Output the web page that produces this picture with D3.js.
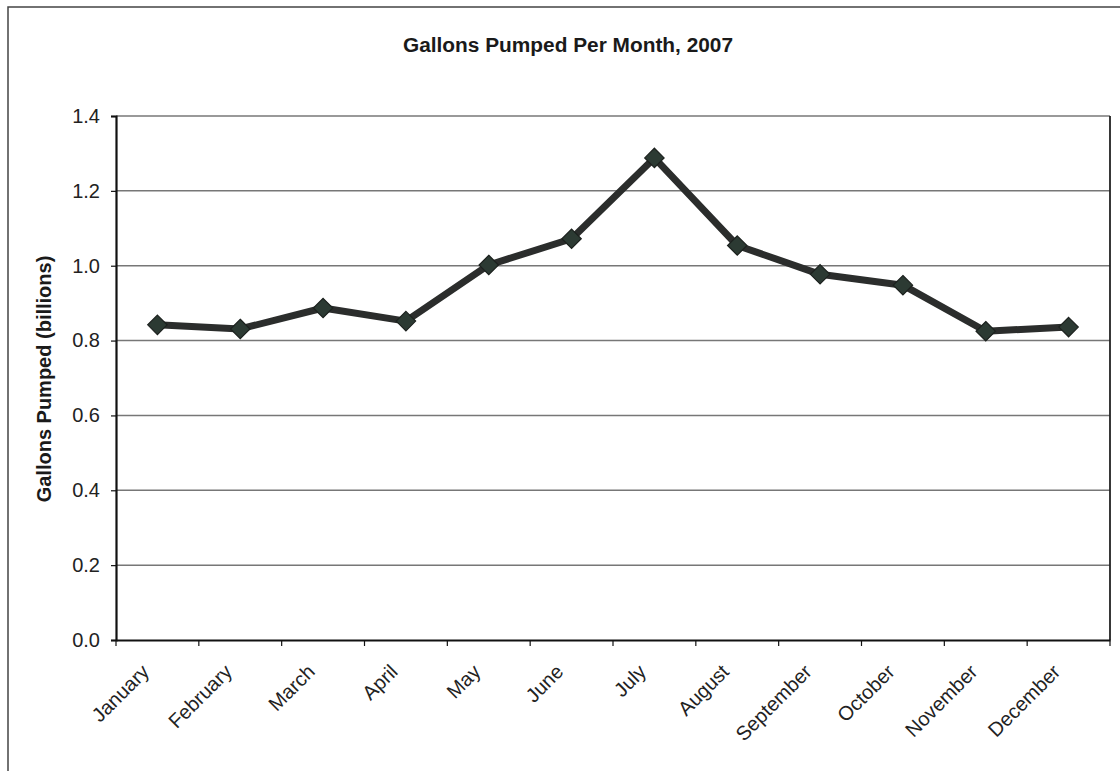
<!DOCTYPE html>
<html>
<head>
<meta charset="utf-8">
<script src="https://cdn.jsdelivr.net/npm/d3@7"></script>
<style>
  body { margin: 0; background: #fff; }
  svg { display: block; font-family: Arial, "Liberation Sans", sans-serif; }
</style>
</head>
<body>
<svg id="chart" width="1120" height="771"></svg>
<script>
var months = ['January', 'February', 'March', 'April', 'May', 'June',
  'July', 'August', 'September', 'October', 'November', 'December'];
var gallons = [0.842, 0.831, 0.887, 0.852, 1.002, 1.072,
  1.288, 1.054, 0.977, 0.948, 0.825, 0.836];
var yTicks = [0, 0.2, 0.4, 0.6, 0.8, 1.0, 1.2, 1.4];

var margin = { left: 116, top: 116, right: 10, bottom: 131 };
var width = 1120 - margin.left - margin.right;
var height = 771 - margin.top - margin.bottom;

var svg = d3.select('#chart');

// outer frame (only left and top edges are on the page)
svg.append('path')
  .attr('d', 'M8,771 L8,7 L1120,7')
  .attr('fill', 'none')
  .attr('stroke', '#444')
  .attr('stroke-width', 1.5);

svg.append('text')
  .attr('x', 568).attr('y', 52)
  .attr('text-anchor', 'middle')
  .attr('font-weight', 'bold')
  .attr('font-size', 20)
  .attr('textLength', 330)
  .attr('lengthAdjust', 'spacingAndGlyphs')
  .attr('fill', '#1a1a1a')
  .text('Gallons Pumped Per Month, 2007');

var g = svg.append('g')
  .attr('transform', 'translate(' + margin.left + ',' + margin.top + ')');

var x = d3.scaleBand().domain(months).range([0, width]);
var y = d3.scaleLinear().domain([0, 1.4]).range([height, 0]);

// gridlines
g.selectAll('.grid').data(yTicks.slice(1))
  .enter().append('line').attr('class', 'grid')
  .attr('x1', 0).attr('x2', width)
  .attr('y1', function(d) { return y(d); })
  .attr('y2', function(d) { return y(d); })
  .attr('stroke', '#777')
  .attr('stroke-width', 1.5);

// right edge of plot area
g.append('line')
  .attr('x1', width).attr('x2', width)
  .attr('y1', 0).attr('y2', height)
  .attr('stroke', '#222').attr('stroke-width', 1.8);

var yAxis = g.append('g')
  .call(d3.axisLeft(y).tickValues(yTicks).tickFormat(d3.format('.1f'))
    .tickSize(5).tickPadding(11));
yAxis.select('.domain').attr('stroke', '#111').attr('stroke-width', 2.2);
yAxis.selectAll('.tick line').attr('stroke', '#111').attr('stroke-width', 1.2);
yAxis.selectAll('text').attr('font-size', 20).attr('fill', '#222')
  .attr('font-family', 'Arial, "Liberation Sans", sans-serif');

var xAxis = g.append('g')
  .attr('transform', 'translate(0,' + height + ')')
  .call(d3.axisBottom(x).tickSize(0).tickFormat(''));
xAxis.select('.domain').attr('stroke', '#111').attr('stroke-width', 2.2);

// category boundary ticks
g.selectAll('.xtick').data(d3.range(months.length + 1))
  .enter().append('line').attr('class', 'xtick')
  .attr('x1', function(i) { return i * x.bandwidth(); })
  .attr('x2', function(i) { return i * x.bandwidth(); })
  .attr('y1', height).attr('y2', height + 6)
  .attr('stroke', '#111').attr('stroke-width', 1.2);

g.selectAll('.xlabel').data(months)
  .enter().append('text').attr('class', 'xlabel')
  .attr('transform', function(d) {
    return 'translate(' + (x(d) + x.bandwidth() / 2 - 7) + ',' + (height + 33) + ') rotate(-45)';
  })
  .attr('text-anchor', 'end')
  .attr('font-size', 20)
  .attr('fill', '#222')
  .text(function(d) { return d; });

svg.append('text')
  .attr('transform', 'translate(51,' + (margin.top + height / 2 + 1) + ') rotate(-90)')
  .attr('text-anchor', 'middle')
  .attr('font-weight', 'bold')
  .attr('font-size', 20)
  .attr('fill', '#1a1a1a')
  .text('Gallons Pumped (billions)');

var line = d3.line()
  .x(function(d, i) { return x(months[i]) + x.bandwidth() / 2; })
  .y(function(d) { return y(d); });

g.append('path').datum(gallons)
  .attr('d', line)
  .attr('fill', 'none')
  .attr('stroke', '#2b2d2c')
  .attr('stroke-width', 7)
  .attr('stroke-linejoin', 'round');

var diamond = d3.symbol().type(d3.symbolDiamond2).size(240);
g.selectAll('.marker').data(gallons)
  .enter().append('path').attr('class', 'marker')
  .attr('d', diamond)
  .attr('transform', function(d, i) {
    return 'translate(' + (x(months[i]) + x.bandwidth() / 2) + ',' + y(d) + ')';
  })
  .attr('fill', '#2c3a33')
  .attr('stroke', '#1c211e')
  .attr('stroke-width', 1.2);
</script>
</body>
</html>
